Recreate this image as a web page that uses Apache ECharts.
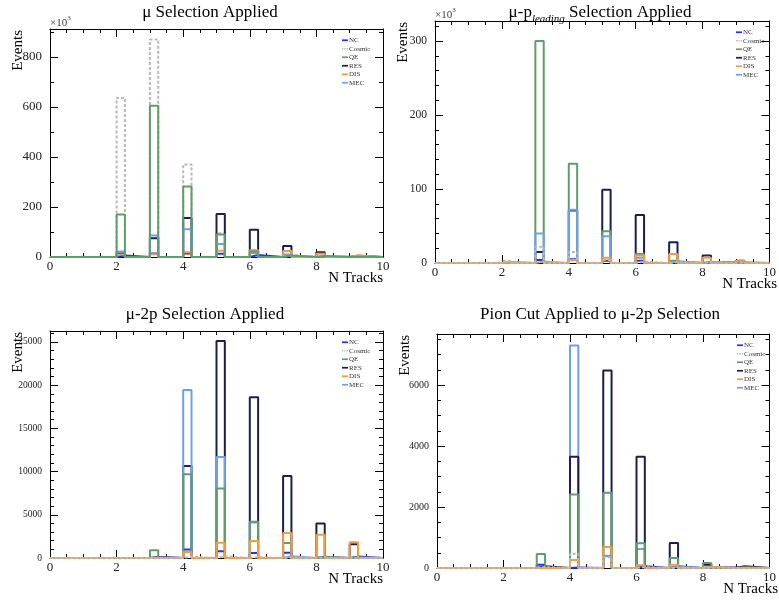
<!DOCTYPE html>
<html>
<head>
<meta charset="utf-8">
<script src="https://cdn.jsdelivr.net/npm/echarts@6/dist/echarts.min.js"></script>
<style>
html,body{margin:0;padding:0;background:#fff;}
#chart{width:779px;height:600px;}
</style>
</head>
<body>
<div id="chart"></div>
<script>
// ---------------- data ----------------
const nTracks = [0, 1, 2, 3, 4, 5, 6, 7, 8, 9];
const binWidth = 0.25;
const seriesNames = ['NC', 'Cosmic', 'QE', 'RES', 'DIS', 'MEC'];
const xTicks = [0, 2, 4, 6, 8, 10];

// Panel 1: mu selection (x10^3 events)
const p1_NC     = [0, 0, 6, 14, 14, 13, 8, 4, 1, 0];
const p1_Cosmic = [0, 0, 636, 870, 370, 95, 28, 8, 3, 1];
const p1_QE     = [0, 0, 170, 605, 282, 90, 22, 6, 4, 1];
const p1_RES    = [0, 0, 14, 75, 156, 172, 109, 44, 19, 5];
const p1_DIS    = [0, 0, 10, 11, 19, 25, 27, 24, 13, 7];
const p1_MEC    = [0, 0, 22, 86, 111, 52, 16, 10, 3, 1];

// Panel 2: mu-p_leading selection (x10^3 events)
const p2_NC     = [0, 0, 0, 4, 5, 3, 3, 2, 1, 0];
const p2_Cosmic = [0, 0, 3, 22, 15, 4, 2, 1, 0, 0];
const p2_QE     = [0, 0, 1, 300, 134, 43, 12, 3, 1, 0];
const p2_RES    = [0, 0, 0, 15, 71, 99, 65, 28, 10, 3];
const p2_DIS    = [0, 0, 1, 2, 4, 7, 10, 12, 7, 3];
const p2_MEC    = [0, 0, 0, 40, 72, 36, 7, 2, 1, 0];

// Panel 3: mu-2p selection (events)
const p3_NC     = [0, 0, 0, 110, 970, 780, 580, 600, 150, 160];
const p3_Cosmic = [0, 0, 0, 0, 150, 200, 100, 50, 0, 0];
const p3_QE     = [0, 0, 0, 900, 9700, 8050, 4200, 1750, 100, 60];
const p3_RES    = [0, 0, 0, 50, 10650, 25100, 18600, 9500, 4000, 1600];
const p3_DIS    = [0, 0, 0, 20, 700, 1760, 1970, 2900, 2700, 1830];
const p3_MEC    = [0, 0, 0, 30, 19450, 11700, 4100, 200, 50, 20];

// Panel 4: pion cut applied to mu-2p selection (events)
const p4_NC     = [0, 0, 0, 110, 20, 390, 55, 55, 30, 0];
const p4_Cosmic = [0, 0, 0, 30, 470, 350, 30, 10, 0, 0];
const p4_QE     = [0, 0, 0, 460, 2410, 2470, 810, 330, 165, 20];
const p4_RES    = [0, 0, 0, 60, 3650, 6480, 3650, 820, 110, 55];
const p4_DIS    = [0, 0, 0, 10, 260, 690, 90, 110, 40, 10];
const p4_MEC    = [0, 0, 0, 10, 7300, 400, 620, 40, 10, 0];

const panelTitles = ['μ Selection Applied', 'μ-p{sub|leading} Selection Applied',
                     'μ-2p Selection Applied', 'Pion Cut Applied to μ-2p Selection'];
const yMax      = [912, 327, 26270, 7680];
const yInterval = [200, 100, 5000, 2000];
const yMinorSplit = [2, 5, 5, 4];
const yLabelSize = [13, 11.5, 9.5, 10];

// ---------------- styling ----------------
const colors = { NC: '#2233ff', Cosmic: '#b8b8b8', QE: '#5f9e68', RES: '#1c1d52', DIS: '#f59b3a', MEC: '#6f9ff2' };
const serif = '"Liberation Serif", "DejaVu Serif", serif';

const panelData = [
  { NC: p1_NC, Cosmic: p1_Cosmic, QE: p1_QE, RES: p1_RES, DIS: p1_DIS, MEC: p1_MEC },
  { NC: p2_NC, Cosmic: p2_Cosmic, QE: p2_QE, RES: p2_RES, DIS: p2_DIS, MEC: p2_MEC },
  { NC: p3_NC, Cosmic: p3_Cosmic, QE: p3_QE, RES: p3_RES, DIS: p3_DIS, MEC: p3_MEC },
  { NC: p4_NC, Cosmic: p4_Cosmic, QE: p4_QE, RES: p4_RES, DIS: p4_DIS, MEC: p4_MEC }
];
// draw order (bottom -> top) per panel
const drawOrder = [
  ['NC', 'Cosmic', 'RES', 'MEC', 'DIS', 'QE'],
  ['NC', 'RES', 'QE', 'MEC', 'DIS', 'Cosmic'],
  ['NC', 'RES', 'MEC', 'QE', 'DIS', 'Cosmic'],
  ['NC', 'MEC', 'RES', 'QE', 'DIS', 'Cosmic']
];

const grids = [
  { left: 50, top: 29, width: 333, height: 228 },
  { left: 435, top: 21, width: 342, height: 242 },
  { left: 50, top: 331, width: 333, height: 227 },
  { left: 437, top: 334, width: 341, height: 234 }
];

function histOutline(values) {
  const pts = [[xTicks[0], 0]];
  values.forEach((v, i) => {
    if (v > 0) {
      const x0 = nTracks[i], x1 = nTracks[i] + binWidth;
      pts.push([x0, 0], [x0, v], [x1, v], [x1, 0]);
    }
  });
  pts.push([xTicks[xTicks.length - 1], 0]);
  return pts;
}

const axisLineStyle = { show: true, onZero: false, lineStyle: { color: '#000', width: 1 } };
const tickStyle = { show: true, inside: true, length: 8, lineStyle: { color: '#000', width: 1 } };
const minorStyle = (n) => ({ show: true, splitNumber: n, length: 4, lineStyle: { color: '#000', width: 1 } });

const solidIcon = 'path://M0,0L14,0L14,4L0,4Z';
const dashIcon = 'path://M0,0L3,0L3,4L0,4ZM5.5,0L8.5,0L8.5,4L5.5,4ZM11,0L14,0L14,4L11,4Z';

const xAxes = [], yAxes = [], series = [], legends = [], graphics = [];
grids.forEach((g, gi) => {
  const xBase = {
    type: 'value', gridIndex: gi, min: 0, max: 10, interval: 2,
    axisLine: axisLineStyle, axisTick: tickStyle, minorTick: minorStyle(4),
    splitLine: { show: false }
  };
  xAxes.push(Object.assign({}, xBase, {
    position: 'bottom',
    axisLabel: { fontFamily: serif, fontSize: 13, color: '#222', margin: 3, formatter: v => String(v) }
  }));
  xAxes.push(Object.assign({}, xBase, { position: 'top', axisLabel: { show: false } }));
  const yBase = {
    type: 'value', gridIndex: gi, min: 0, max: yMax[gi], interval: yInterval[gi],
    axisLine: axisLineStyle, axisTick: tickStyle, minorTick: minorStyle(yMinorSplit[gi]),
    splitLine: { show: false }
  };
  yAxes.push(Object.assign({}, yBase, {
    position: 'left',
    axisLabel: { fontFamily: serif, fontSize: yLabelSize[gi], color: '#222', margin: 8, showMaxLabel: false, formatter: v => String(v) }
  }));
  yAxes.push(Object.assign({}, yBase, { position: 'right', axisLabel: { show: false } }));

  drawOrder[gi].forEach(name => {
    series.push({
      type: 'line', name: name, xAxisIndex: gi * 2, yAxisIndex: gi * 2,
      data: histOutline(panelData[gi][name]),
      symbol: 'none', showSymbol: false, silent: true, animation: false,
      lineStyle: { color: colors[name], width: 2, type: name === 'Cosmic' ? [3, 2] : 'solid' },
      itemStyle: { color: colors[name] }
    });
  });

  legends.push({
    orient: 'vertical', left: g.left + g.width - 41, top: g.top + 7,
    data: seriesNames.map(n => ({ name: n, icon: n === 'Cosmic' ? dashIcon : solidIcon,
                                  itemStyle: { color: colors[n] } })),
    padding: 0, itemGap: 0, itemWidth: 6, itemHeight: 2,
    selectedMode: false,
    textStyle: { fontFamily: serif, fontSize: 7, color: '#333', lineHeight: 8.5, padding: [0, 0, 0, -4] }
  });
});

// titles
const titleCenters = [[210, 13], [600, 13], [205, 315], [600, 315]];
panelTitles.forEach((t, i) => {
  graphics.push({
    type: 'text', x: titleCenters[i][0], y: titleCenters[i][1],
    style: {
      text: t, textAlign: 'center', textVerticalAlign: 'middle',
      font: '17px ' + serif, fill: '#000',
      rich: {
        sub: { fontFamily: serif, fontSize: 11, fontStyle: 'italic', lineHeight: 23, verticalAlign: 'bottom', fill: '#000' }
      }
    }
  });
});
// axis titles
grids.forEach((g, gi) => {
  graphics.push({
    type: 'text', x: g.left - 32, y: g.top + 1, rotation: Math.PI / 2,
    style: { text: 'Events', textAlign: 'right', textVerticalAlign: 'middle', font: '15px ' + serif, fill: '#000' }
  });
  graphics.push({
    type: 'text', x: g.left + g.width, y: g.top + g.height + 21,
    style: { text: 'N Tracks', textAlign: 'right', textVerticalAlign: 'middle', font: '15px ' + serif, fill: '#000' }
  });
});
// x10^3 multipliers for panels 1 and 2
[0, 1].forEach(gi => {
  const g = grids[gi];
  graphics.push({
    type: 'text', x: g.left, y: g.top - 6,
    style: {
      text: '×10{sup|3}', textAlign: 'left', textVerticalAlign: 'middle',
      font: '11px ' + serif, fill: '#444',
      rich: { sup: { fontFamily: serif, fontSize: 7, verticalAlign: 'top', lineHeight: 16, fill: '#444' } }
    }
  });
});

const chart = echarts.init(document.getElementById('chart'), null, { renderer: 'canvas' });
chart.setOption({
  backgroundColor: '#fff',
  animation: false,
  grid: grids.map(g => Object.assign({ containLabel: false }, g)),
  xAxis: xAxes,
  yAxis: yAxes,
  legend: legends,
  series: series,
  graphic: graphics
});
</script>
</body>
</html>
